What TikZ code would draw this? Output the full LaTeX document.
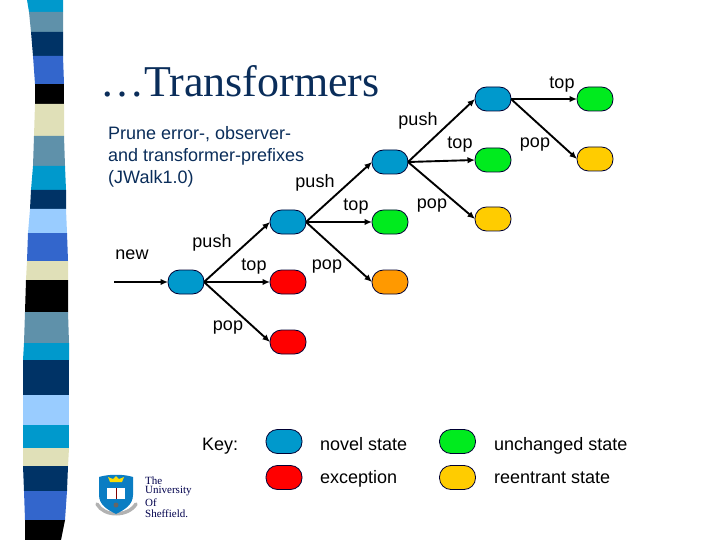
\documentclass[tikz,border=0pt]{standalone}
\usepackage{fontspec}
\setmainfont{Liberation Sans}
\newfontfamily\titlefont{Liberation Serif}
\usepackage{xcolor}
\usetikzlibrary{positioning,arrows.meta}
\definecolor{novelblue}{RGB}{0,153,204}
\definecolor{stripcyan}{RGB}{0,153,204}
\definecolor{stripsteel}{RGB}{95,145,170}
\definecolor{stripnavy}{RGB}{0,51,102}
\definecolor{stripblue}{RGB}{51,102,204}
\definecolor{stripcream}{RGB}{224,224,184}
\definecolor{striplight}{RGB}{153,204,255}
\definecolor{titlenavy}{RGB}{10,45,90}
\definecolor{okgreen}{RGB}{0,235,30}
\definecolor{reentrant}{RGB}{255,204,0}
\definecolor{shieldblue}{RGB}{10,125,195}

\begin{document}
\begin{tikzpicture}[x=1pt, y=-1pt,
    statebox/.style={
        draw=black!80!blue,
        rectangle,
        minimum width=36pt,
        minimum height=24pt,
        inner sep=0pt,
        outer sep=0pt,
        rounded corners=11.5pt,
        line width=0.8pt
    },
    novel/.style={statebox, fill=novelblue},
    exception/.style={statebox, fill=red},
    unchanged/.style={statebox, fill=okgreen},
    looping/.style={statebox, fill=reentrant},
    fresh/.style={statebox, fill=orange!80!yellow},
    arrow/.style={
        -{Latex[length=7.5pt,width=6.5pt]},
        line width=1.9pt,
        black
    },
    lbl/.style={font=\fontsize{18}{22}\selectfont, inner sep=0pt},
    keytext/.style={lbl, anchor=base west},
    crest/.style={font=\titlefont\fontsize{11}{11}\selectfont, inner sep=0pt, anchor=west, text=black!70!blue},
    node distance=60pt and 102pt,
    on grid
]
    \useasboundingbox (0,0) rectangle (720,540);

    % Strip down the left edge
    \foreach \ya/\la/\ra/\yb/\lb/\rb/\col in {
        0/27/63/12/29/63/stripcyan, 12/29/63/32/31/63/stripsteel,
        32/31/63/56/33/63/stripnavy, 56/33/63/84/35/64/stripblue,
        84/35/64/104/35/64/black, 104/35/64/136/34/64/stripcream,
        136/34/64/166/33/65/stripsteel, 166/33/65/190/31/66/stripcyan,
        190/31/66/209/30/66/stripnavy, 209/30/66/233/28/67/striplight,
        233/28/67/261/27/68/stripblue, 261/27/68/280/26/68/stripcream,
        280/26/68/312/25/68/black, 312/25/68/343/24/69/stripsteel,
        343/24/69/360/23/69/stripcyan, 360/23/69/395/23/69/stripnavy,
        395/23/69/425/23/69/striplight, 425/23/69/448/23/69/stripcyan,
        448/23/69/466/23/68/stripcream, 466/23/68/491/24/67/stripnavy,
        491/24/67/520/25/65/stripblue, 520/25/65/540/25/61/black}
        \fill[\col] (\la,\ya) -- (\ra,\ya) -- (\rb,\yb) -- (\lb,\yb) -- cycle;

    % Title and note
    \node[font=\titlefont\fontsize{44}{44}\selectfont, text=titlenavy, anchor=base west, inner sep=0pt] (title) at (100,97) {…Transformers};
    \node[lbl, text=titlenavy, anchor=north west, align=left] (note) at (108,126) {Prune error-, observer-\\and transformer-prefixes\\(JWalk1.0)};

    % Novel states
    \coordinate (start) at (114,282);
    \node[novel] (nA) at (186,282) {};
    \node[novel] (nB) [above right=of nA] {};
    \node[novel] (nC) [above right=of nB] {};
    \node[novel] (nD) [above right=63pt and 103pt of nC] {};

    % States reached from them
    \node[exception] (topA) [right=of nA] {};
    \node[exception] (popA) [below right=of nA] {};
    \node[unchanged] (topB) [right=of nB] {};
    \node[fresh] (popB) [below right=of nB] {};
    \node[unchanged] (topC) [right=103pt of nC, yshift=2pt] {};
    \node[looping] (popC) [below right=57pt and 103pt of nC] {};
    \node[unchanged] (topD) [right=of nD] {};
    \node[looping] (popD) [below right=of nD] {};

    % Connectors
    \draw[arrow] (start) -- (nA.west);
    \draw[arrow] (nA.east) -- (nB.west);
    \draw[arrow] (nA.east) -- (topA.west);
    \draw[arrow] (nA.east) -- (popA.west);
    \draw[arrow] (nB.east) -- (nC.west);
    \draw[arrow] (nB.east) -- (topB.west);
    \draw[arrow] (nB.east) -- (popB.west);
    \draw[arrow] (nC.east) -- (nD.west);
    \draw[arrow] (nC.east) -- (topC.west);
    \draw[arrow] (nC.east) -- (popC.west);
    \draw[arrow] (nD.east) -- (topD.west);
    \draw[arrow] (nD.east) -- (popD.west);

    % Labels
    \node[lbl] (lnew) at (132,255) {new};
    \node[lbl] (lpushA) at (212,243) {push};
    \node[lbl] (ltopA) at (254,267) {top};
    \node[lbl] (lpopA) at (228,328) {pop};
    \node[lbl] (lpushB) at (315,183) {push};
    \node[lbl] (ltopB) at (356,207) {top};
    \node[lbl] (lpopB) at (327,267) {pop};
    \node[lbl] (lpushC) at (418,121) {push};
    \node[lbl] (ltopC) at (460,145) {top};
    \node[lbl] (lpopC) at (432,206) {pop};
    \node[lbl] (ltopD) at (562,85) {top};
    \node[lbl] (lpopD) at (535,145) {pop};

    % Key
    \node[keytext] (key) at (202,450) {Key:};
    \node[novel] (keyNovel) at (284,441.5) {};
    \node[keytext] (txtNovel) at (320,450) {novel state};
    \node[unchanged] (keyGreen) at (457.5,441.5) {};
    \node[keytext] (txtGreen) at (494,450) {unchanged state};
    \node[exception] (keyRed) at (284,477.5) {};
    \node[keytext] (txtRed) at (320,483) {exception};
    \node[looping] (keyYellow) at (457.5,477.5) {};
    \node[keytext] (txtYellow) at (494,483) {reentrant state};

    % University crest
    \draw[black!30, line width=3.5pt, line cap=round] (97,504) .. controls (104,517) and (128,517) .. (136,504);
    \fill[shieldblue] (99,477) .. controls (108,474) and (124,474) .. (133,477) -- (133,495) .. controls (133,505) and (124,510) .. (116,514) .. controls (108,510) and (99,505) .. (99,495) -- cycle;
    \fill[yellow!80!orange] (110,482) -- (108,477) -- (113,479) -- (116,476) -- (119,479) -- (124,477) -- (122,482) -- cycle;
    \fill[white] (107,488) rectangle (125,499);
    \draw[black!50!red, line width=0.5pt] (116,488) -- (116,499);
    \fill[black!60] (116,505) circle (2.5pt);
    \node[crest] (uniA) at (145,480.5) {The};
    \node[crest] (uniB) at (145,491.5) {University};
    \node[crest] (uniC) at (145,502.5) {Of};
    \node[crest] (uniD) at (145,513.5) {Sheffield.};
\end{tikzpicture}
\end{document}
